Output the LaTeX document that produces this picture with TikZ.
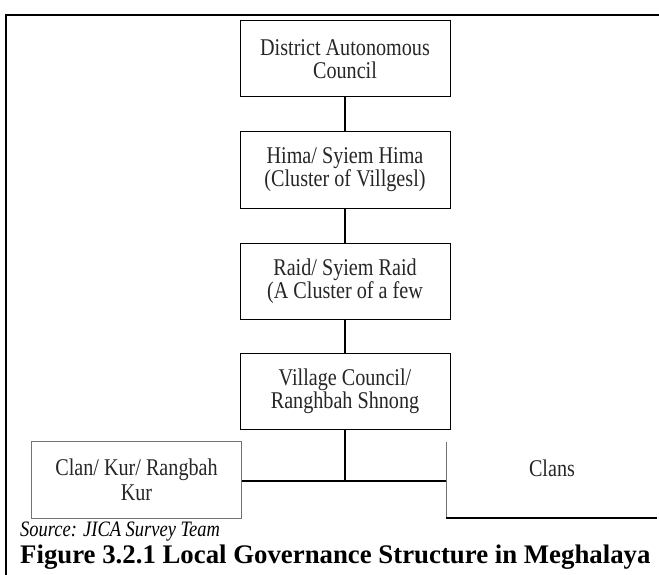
\documentclass[tikz,border=0pt]{standalone}
\usepackage{fontspec}
\setmainfont{Liberation Serif}
\newfontfamily\boxfont[FakeStretch=0.84]{Liberation Serif}
\begin{document}
\begin{tikzpicture}[x=1pt,y=-1pt,
  level/.style={draw=black,line width=1pt,minimum width=210pt,minimum height=76pt,
    inner sep=0pt,align=center,font=\boxfont\fontsize{24}{23}\selectfont,text=black!85},
  leaf/.style={minimum width=210pt,minimum height=76pt,inner sep=0pt,align=center,
    font=\boxfont\fontsize{24}{25}\selectfont,text=black!85},
  link/.style={line width=1.5pt},
  frame/.style={line width=2pt}]
\useasboundingbox (0,0) rectangle (659,575);

% outer frame (top and left rules)
\draw[frame] (6,575) -- (6,15) -- (659,15);

% hierarchy of councils
\node[level] (dac)  at (345,59)  {District Autonomous\\Council};
\node[level] (hima) at (345,170) {Hima/ Syiem Hima\\(Cluster of Villgesl)};
\node[level] (raid) at (345,281) {Raid/ Syiem Raid\\(A Cluster of a few};
\node[level] (vc)   at (345,391) {Village Council/\\Ranghbah Shnong};

% lowest level
\node[leaf] (clan)  at (136.5,480) {Clan/ Kur/ Rangbah\\Kur};
\node[leaf] (clans) at (551.5,480) {};
\node[font=\boxfont\fontsize{24}{25}\selectfont,text=black!85] (clanstext) at (552,468) {Clans};
\draw[line width=0.8pt,black!55] (clan.south west) rectangle (clan.north east);
\draw[line width=0.8pt,black!55] (clans.north west) -- (clans.south west);
\draw[line width=1.5pt] (clans.south west) -- (clans.south east);

% connectors
\draw[link] (dac.south) -- (hima.north);
\draw[link] (hima.south) -- (raid.north);
\draw[link] (raid.south) -- (vc.north);
\coordinate (jn) at (345,481);
\draw[link] (vc.south) -- (jn);
\draw[line width=2pt] (clan.east |- jn) -- (clans.west |- jn);

% source and caption
\node[anchor=west,inner sep=0pt,font=\boxfont\fontsize{22}{22}\selectfont\itshape] (src) at (20,532) {Source: JICA Survey Team};
\node[anchor=west,inner sep=0pt,font=\fontsize{26.8}{28}\selectfont\bfseries] (cap) at (20,557) {Figure 3.2.1 Local Governance Structure in Meghalaya};
\end{tikzpicture}
\end{document}
